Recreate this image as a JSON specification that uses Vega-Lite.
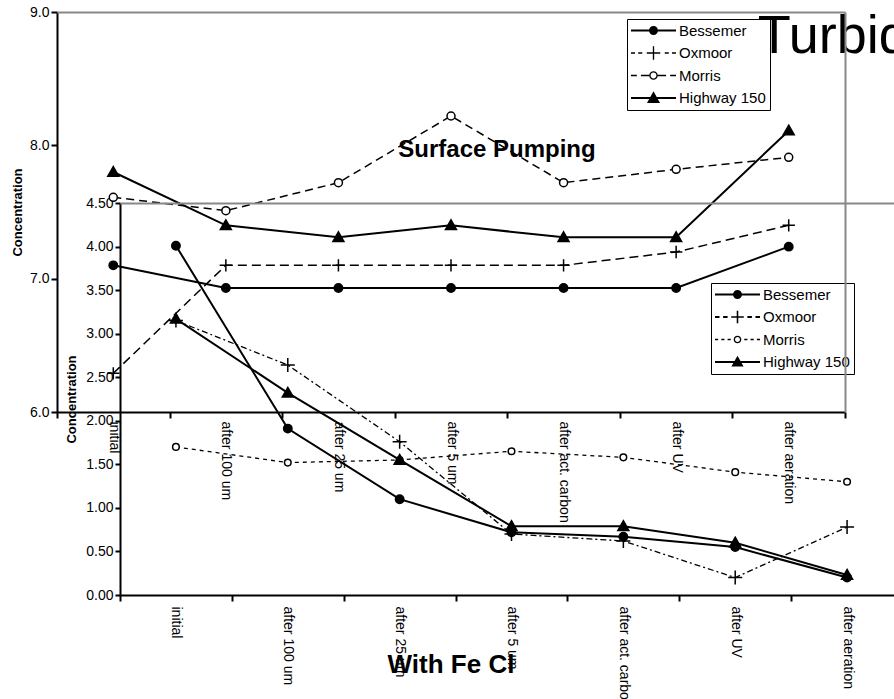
{
  "$schema": "https://vega.github.io/schema/vega-lite/v6.json",
  "width": 837,
  "height": 583,
  "autosize": {"type": "none"},
  "padding": {"left": 57, "top": 12, "right": 0, "bottom": 104},
  "background": "white",
  "config": {
    "view": {"stroke": null},
    "font": "Liberation Sans",
    "axis": {
      "labelFont": "Liberation Sans", "labelFontSize": 14, "labelColor": "black",
      "titleFont": "Liberation Sans", "titleFontSize": 13, "titleFontWeight": "bold", "titleColor": "black",
      "domainColor": "black", "domainWidth": 2, "tickColor": "black", "tickWidth": 2,
      "grid": false, "labelOverlap": false
    }
  },
  "datasets": {
    "pump": [
      {"site": "Bessemer", "stage": "initial", "value": 7.10},
      {"site": "Bessemer", "stage": "after 100 um", "value": 6.93},
      {"site": "Bessemer", "stage": "after 25 um", "value": 6.93},
      {"site": "Bessemer", "stage": "after 5 um", "value": 6.93},
      {"site": "Bessemer", "stage": "after act. carbon", "value": 6.93},
      {"site": "Bessemer", "stage": "after UV", "value": 6.93},
      {"site": "Bessemer", "stage": "after aeration", "value": 7.24},
      {"site": "Oxmoor", "stage": "initial", "value": 6.29},
      {"site": "Oxmoor", "stage": "after 100 um", "value": 7.10},
      {"site": "Oxmoor", "stage": "after 25 um", "value": 7.10},
      {"site": "Oxmoor", "stage": "after 5 um", "value": 7.10},
      {"site": "Oxmoor", "stage": "after act. carbon", "value": 7.10},
      {"site": "Oxmoor", "stage": "after UV", "value": 7.20},
      {"site": "Oxmoor", "stage": "after aeration", "value": 7.40},
      {"site": "Morris", "stage": "initial", "value": 7.61},
      {"site": "Morris", "stage": "after 100 um", "value": 7.51},
      {"site": "Morris", "stage": "after 25 um", "value": 7.72},
      {"site": "Morris", "stage": "after 5 um", "value": 8.22},
      {"site": "Morris", "stage": "after act. carbon", "value": 7.72},
      {"site": "Morris", "stage": "after UV", "value": 7.82},
      {"site": "Morris", "stage": "after aeration", "value": 7.91},
      {"site": "Highway 150", "stage": "initial", "value": 7.80},
      {"site": "Highway 150", "stage": "after 100 um", "value": 7.40},
      {"site": "Highway 150", "stage": "after 25 um", "value": 7.31},
      {"site": "Highway 150", "stage": "after 5 um", "value": 7.40},
      {"site": "Highway 150", "stage": "after act. carbon", "value": 7.31},
      {"site": "Highway 150", "stage": "after UV", "value": 7.31},
      {"site": "Highway 150", "stage": "after aeration", "value": 8.11}
    ],
    "fecl": [
      {"site": "Bessemer", "stage": "initial", "value": 4.01},
      {"site": "Bessemer", "stage": "after 100 um", "value": 1.91},
      {"site": "Bessemer", "stage": "after 25 um", "value": 1.10},
      {"site": "Bessemer", "stage": "after 5 um", "value": 0.72},
      {"site": "Bessemer", "stage": "after act. carbon", "value": 0.67},
      {"site": "Bessemer", "stage": "after UV", "value": 0.55},
      {"site": "Bessemer", "stage": "after aeration", "value": 0.20},
      {"site": "Oxmoor", "stage": "initial", "value": 3.15},
      {"site": "Oxmoor", "stage": "after 100 um", "value": 2.64},
      {"site": "Oxmoor", "stage": "after 25 um", "value": 1.76},
      {"site": "Oxmoor", "stage": "after 5 um", "value": 0.70},
      {"site": "Oxmoor", "stage": "after act. carbon", "value": 0.62},
      {"site": "Oxmoor", "stage": "after UV", "value": 0.20},
      {"site": "Oxmoor", "stage": "after aeration", "value": 0.78},
      {"site": "Morris", "stage": "initial", "value": 1.70},
      {"site": "Morris", "stage": "after 100 um", "value": 1.52},
      {"site": "Morris", "stage": "after 25 um", "value": 1.55},
      {"site": "Morris", "stage": "after 5 um", "value": 1.65},
      {"site": "Morris", "stage": "after act. carbon", "value": 1.58},
      {"site": "Morris", "stage": "after UV", "value": 1.41},
      {"site": "Morris", "stage": "after aeration", "value": 1.30},
      {"site": "Highway 150", "stage": "initial", "value": 3.17},
      {"site": "Highway 150", "stage": "after 100 um", "value": 2.32},
      {"site": "Highway 150", "stage": "after 25 um", "value": 1.55},
      {"site": "Highway 150", "stage": "after 5 um", "value": 0.79},
      {"site": "Highway 150", "stage": "after act. carbon", "value": 0.79},
      {"site": "Highway 150", "stage": "after UV", "value": 0.60},
      {"site": "Highway 150", "stage": "after aeration", "value": 0.23}
    ]
  },
  "layer": [
    {
      "data": {"name": "pump"},
      "layer": [
        {
          "data": {"values": [{}]},
          "mark": {"type": "text", "align": "left", "baseline": "alphabetic", "fontSize": 54, "font": "Liberation Sans", "dx": -31, "color": "black"},
          "encoding": {
            "x": {"datum": "after aeration", "type": "nominal", "scale": {"type": "band", "domain": ["initial", "after 100 um", "after 25 um", "after 5 um", "after act. carbon", "after UV", "after aeration"], "range": [0, 788], "paddingInner": 0, "paddingOuter": 0}, "axis": null},
            "y": {"datum": 8.69, "type": "quantitative", "scale": {"domain": [6, 9], "range": [400, 0], "nice": false, "zero": false}, "axis": null},
            "text": {"value": "Turbidity"}
          }
        },
        {
          "transform": [{"filter": {"field": "site", "oneOf": ["Bessemer", "Highway 150"]}}],
          "mark": {"type": "line", "color": "black", "strokeWidth": 2},
          "encoding": {
            "x": {"field": "stage", "type": "nominal", "scale": {"type": "band", "domain": ["initial", "after 100 um", "after 25 um", "after 5 um", "after act. carbon", "after UV", "after aeration"], "range": [0, 788], "paddingInner": 0, "paddingOuter": 0},
              "axis": {"orient": "bottom", "offset": -183, "tickBand": "extent", "labelAngle": 90, "labelPadding": 3, "tickSize": 6, "title": null}},
            "y": {"field": "value", "type": "quantitative", "scale": {"domain": [6, 9], "range": [400, 0], "nice": false, "zero": false},
              "axis": {"orient": "left", "values": [6, 7, 8, 9], "format": ".1f", "tickSize": 6, "labelPadding": 2, "title": "Concentration", "titlePadding": 5}},
            "detail": {"field": "site", "type": "nominal"},
            "order": {"value": null}
          }
        },
        {
          "transform": [{"filter": {"field": "site", "oneOf": ["Oxmoor", "Morris"]}}],
          "mark": {"type": "line", "color": "black", "strokeWidth": 1.5},
          "encoding": {
            "x": {"field": "stage", "type": "nominal", "scale": {"type": "band", "domain": ["initial", "after 100 um", "after 25 um", "after 5 um", "after act. carbon", "after UV", "after aeration"], "range": [0, 788], "paddingInner": 0, "paddingOuter": 0}, "axis": null},
            "y": {"field": "value", "type": "quantitative", "scale": {"domain": [6, 9], "range": [400, 0], "nice": false, "zero": false}, "axis": null},
            "strokeDash": {"field": "site", "type": "nominal", "scale": {"domain": ["Oxmoor", "Morris"], "range": [[9, 5], [8, 5]]}, "legend": null},
            "order": {"value": null}
          }
        },
        {
          "mark": {"type": "point", "stroke": "black", "strokeWidth": 1.5, "size": 400, "opacity": 1},
          "encoding": {
            "x": {"field": "stage", "type": "nominal", "scale": {"type": "band", "domain": ["initial", "after 100 um", "after 25 um", "after 5 um", "after act. carbon", "after UV", "after aeration"], "range": [0, 788], "paddingInner": 0, "paddingOuter": 0},
              "axis": {"orient": "top", "domainColor": "#888888", "ticks": false, "labels": false, "title": null, "zindex": 1}},
            "y": {"field": "value", "type": "quantitative", "scale": {"domain": [6, 9], "range": [400, 0], "nice": false, "zero": false},
              "axis": {"orient": "right", "offset": -49, "domainColor": "#888888", "ticks": false, "labels": false, "title": null, "zindex": 1}},
            "shape": {"field": "site", "type": "nominal", "scale": {"domain": ["Bessemer", "Oxmoor", "Morris", "Highway 150"], "range": [
              "M0.42,0A0.42,0.42 0 1,1 -0.42,0A0.42,0.42 0 1,1 0.42,0Z",
              "M-0.62,0H0.62M0,-0.62V0.62",
              "M0.4,0A0.4,0.4 0 1,1 -0.4,0A0.4,0.4 0 1,1 0.4,0Z",
              "M0,-0.55L0.55,0.42L-0.55,0.42Z"]}, "legend": null},
            "fill": {"field": "site", "type": "nominal", "scale": {"domain": ["Bessemer", "Oxmoor", "Morris", "Highway 150"], "range": ["black", "black", "white", "black"]}, "legend": null}
          }
        },
        {
          "data": {"values": []},
          "mark": {"type": "point", "filled": true, "color": "black"},
          "encoding": {
            "shape": {"field": "site", "type": "nominal", "scale": {"domain": ["Bessemer", "Oxmoor", "Morris", "Highway 150"], "range": [
              "M-1,-0.045H1V0.045H-1Z M0.2,0A0.2,0.2 0 1,1 -0.2,0A0.2,0.2 0 1,1 0.2,0Z",
              "M-1,-0.03H-0.82V0.03H-1Z M-0.68,-0.03H-0.5V0.03H-0.68Z M-0.3,-0.03H0.3V0.03H-0.3Z M-0.03,-0.3H0.03V0.3H-0.03Z M0.5,-0.03H0.68V0.03H0.5Z M0.82,-0.03H1V0.03H0.82Z",
              "M-1,-0.035H-0.74V0.035H-1Z M-0.56,-0.035H-0.19V0.035H-0.56Z M0.19,0A0.19,0.19 0 1,1 -0.19,0A0.19,0.19 0 1,1 0.19,0Z M0.13,0A0.13,0.13 0 1,0 -0.13,0A0.13,0.13 0 1,0 0.13,0Z M0.19,-0.035H0.56V0.035H0.19Z M0.74,-0.035H1V0.035H0.74Z",
              "M-1,-0.045H1V0.045H-1Z M0,-0.3L0.29,0.22L-0.29,0.22Z"]},
              "legend": {"orient": "none", "legendX": 570, "legendY": 7, "title": null, "direction": "vertical", "columns": 1,
                "fillColor": "white", "strokeColor": "black", "padding": 4, "rowPadding": 6.5, "clipHeight": 15,
                "symbolSize": 2025, "symbolOpacity": 1, "symbolStrokeWidth": 0, "symbolOffset": 0,
                "labelOffset": 3, "labelFont": "Liberation Sans", "labelFontSize": 15, "labelColor": "black", "labelLimit": 200,
                "encode": {"legend": {"update": {"strokeWidth": {"value": 2}}}}}}
          }
        },
        {
          "data": {"values": [{}]},
          "mark": {"type": "text", "align": "center", "baseline": "alphabetic", "fontSize": 24, "fontWeight": "bold", "font": "Liberation Sans", "dx": 46, "color": "black"},
          "encoding": {
            "x": {"datum": "after 5 um", "type": "nominal", "scale": {"type": "band", "domain": ["initial", "after 100 um", "after 25 um", "after 5 um", "after act. carbon", "after UV", "after aeration"], "range": [0, 788], "paddingInner": 0, "paddingOuter": 0}, "axis": null},
            "y": {"datum": 7.91, "type": "quantitative", "scale": {"domain": [6, 9], "range": [400, 0], "nice": false, "zero": false}, "axis": null},
            "text": {"value": "Surface Pumping"}
          }
        },
        {
          "data": {"values": [{}]},
          "mark": {"type": "text", "align": "center", "baseline": "alphabetic", "fontSize": 26, "fontWeight": "bold", "font": "Liberation Sans", "color": "black"},
          "encoding": {
            "x": {"datum": "after 5 um", "type": "nominal", "scale": {"type": "band", "domain": ["initial", "after 100 um", "after 25 um", "after 5 um", "after act. carbon", "after UV", "after aeration"], "range": [0, 788], "paddingInner": 0, "paddingOuter": 0}, "axis": null},
            "y": {"datum": 4.04, "type": "quantitative", "scale": {"domain": [6, 9], "range": [400, 0], "nice": false, "zero": false}, "axis": null},
            "text": {"value": "With Fe Cl"}
          }
        }
      ],
      "resolve": {"scale": {"shape": "independent"}, "legend": {"shape": "independent"}, "axis": {"x": "independent", "y": "independent"}}
    },
    {
      "data": {"name": "fecl"},
      "layer": [
        {
          "transform": [{"filter": {"field": "site", "oneOf": ["Bessemer", "Highway 150"]}}],
          "mark": {"type": "line", "color": "black", "strokeWidth": 2},
          "encoding": {
            "x": {"field": "stage", "type": "nominal", "scale": {"type": "band", "domain": ["initial", "after 100 um", "after 25 um", "after 5 um", "after act. carbon", "after UV", "after aeration"], "range": [63, 846], "paddingInner": 0, "paddingOuter": 0},
              "axis": {"orient": "bottom", "tickBand": "extent", "labelAngle": 90, "labelPadding": 5, "tickSize": 6, "title": null}},
            "y": {"field": "value", "type": "quantitative", "scale": {"domain": [0, 4.5], "range": [583, 191], "nice": false, "zero": false},
              "axis": {"orient": "left", "offset": -63, "values": [0, 0.5, 1, 1.5, 2, 2.5, 3, 3.5, 4, 4.5], "format": ".2f", "tickSize": 5, "labelPadding": 2, "title": "Concentration", "titlePadding": 7}},
            "detail": {"field": "site", "type": "nominal"},
            "order": {"value": null}
          }
        },
        {
          "transform": [{"filter": {"field": "site", "oneOf": ["Oxmoor", "Morris"]}}],
          "mark": {"type": "line", "color": "black", "strokeWidth": 1.3},
          "encoding": {
            "x": {"field": "stage", "type": "nominal", "scale": {"type": "band", "domain": ["initial", "after 100 um", "after 25 um", "after 5 um", "after act. carbon", "after UV", "after aeration"], "range": [63, 846], "paddingInner": 0, "paddingOuter": 0}, "axis": null},
            "y": {"field": "value", "type": "quantitative", "scale": {"domain": [0, 4.5], "range": [583, 191], "nice": false, "zero": false}, "axis": null},
            "strokeDash": {"field": "site", "type": "nominal", "scale": {"domain": ["Oxmoor", "Morris"], "range": [[6, 3, 2, 3], [4, 4]]}, "legend": null},
            "order": {"value": null}
          }
        },
        {
          "mark": {"type": "point", "stroke": "black", "strokeWidth": 1.5, "size": 400, "opacity": 1},
          "encoding": {
            "x": {"field": "stage", "type": "nominal", "scale": {"type": "band", "domain": ["initial", "after 100 um", "after 25 um", "after 5 um", "after act. carbon", "after UV", "after aeration"], "range": [63, 846], "paddingInner": 0, "paddingOuter": 0},
              "axis": {"orient": "top", "offset": -191, "domainColor": "#888888", "ticks": false, "labels": false, "title": null, "zindex": 1}},
            "y": {"field": "value", "type": "quantitative", "scale": {"domain": [0, 4.5], "range": [583, 191], "nice": false, "zero": false}, "axis": null},
            "shape": {"field": "site", "type": "nominal", "scale": {"domain": ["Bessemer", "Oxmoor", "Morris", "Highway 150"], "range": [
              "M0.42,0A0.42,0.42 0 1,1 -0.42,0A0.42,0.42 0 1,1 0.42,0Z",
              "M-0.7,0H0.7M0,-0.7V0.7",
              "M0.33,0A0.33,0.33 0 1,1 -0.33,0A0.33,0.33 0 1,1 0.33,0Z",
              "M0,-0.55L0.55,0.42L-0.55,0.42Z"]}, "legend": null},
            "fill": {"field": "site", "type": "nominal", "scale": {"domain": ["Bessemer", "Oxmoor", "Morris", "Highway 150"], "range": ["black", "black", "white", "black"]}, "legend": null}
          }
        },
        {
          "data": {"values": []},
          "mark": {"type": "point", "filled": true, "color": "black"},
          "encoding": {
            "shape": {"field": "site", "type": "nominal", "scale": {"domain": ["Bessemer", "Oxmoor", "Morris", "Highway 150"], "range": [
              "M-1,-0.045H1V0.045H-1Z M0.2,0A0.2,0.2 0 1,1 -0.2,0A0.2,0.2 0 1,1 0.2,0Z",
              "M-1,-0.04H-0.8V0.04H-1Z M-0.64,-0.04H-0.44V0.04H-0.64Z M-0.28,-0.035H0.28V0.035H-0.28Z M-0.035,-0.28H0.035V0.28H-0.035Z M0.44,-0.04H0.64V0.04H0.44Z M0.8,-0.04H1V0.04H0.8Z",
              "M-1,-0.03H-0.86V0.03H-1Z M-0.72,-0.03H-0.58V0.03H-0.72Z M-0.44,-0.03H-0.3V0.03H-0.44Z M0.17,0A0.17,0.17 0 1,1 -0.17,0A0.17,0.17 0 1,1 0.17,0Z M0.11,0A0.11,0.11 0 1,0 -0.11,0A0.11,0.11 0 1,0 0.11,0Z M0.3,-0.03H0.44V0.03H0.3Z M0.58,-0.03H0.72V0.03H0.58Z M0.86,-0.03H1V0.03H0.86Z",
              "M-1,-0.045H1V0.045H-1Z M0,-0.28L0.27,0.2L-0.27,0.2Z"]},
              "legend": {"orient": "none", "legendX": 654, "legendY": 271, "title": null, "direction": "vertical", "columns": 1,
                "fillColor": "white", "strokeColor": "black", "padding": 4, "rowPadding": 6.5, "clipHeight": 15,
                "symbolSize": 2025, "symbolOpacity": 1, "symbolStrokeWidth": 0, "symbolOffset": 0,
                "labelOffset": 3, "labelFont": "Liberation Sans", "labelFontSize": 15, "labelColor": "black", "labelLimit": 200,
                "encode": {"legend": {"update": {"strokeWidth": {"value": 2}}}}}}
          }
        }
      ],
      "resolve": {"scale": {"shape": "independent"}, "legend": {"shape": "independent"}, "axis": {"x": "independent", "y": "independent"}}
    }
  ],
  "resolve": {
    "scale": {"x": "independent", "y": "independent", "shape": "independent", "fill": "independent", "strokeDash": "independent"},
    "axis": {"x": "independent", "y": "independent"},
    "legend": {"shape": "independent"}
  }
}
